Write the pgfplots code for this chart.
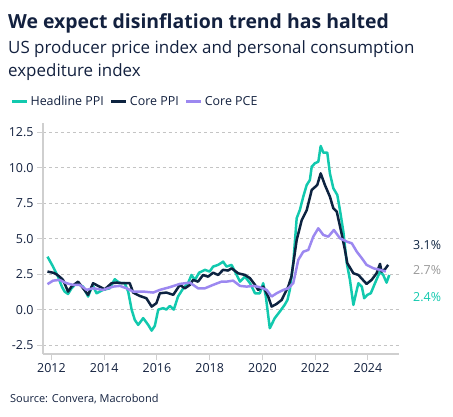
\documentclass[border=0pt]{standalone}
\usepackage{pgfplots}
\pgfplotsset{compat=1.18}
\usepackage{fontspec}
\setmainfont{Open Sans}

\definecolor{hppi}{HTML}{12C9AE}
\definecolor{cppi}{HTML}{0D2340}
\definecolor{cpce}{HTML}{9C88F0}
\definecolor{txt}{HTML}{13213F}
\definecolor{axgray}{HTML}{CFCFCF}
\definecolor{gridgray}{HTML}{C4C4C4}

\begin{document}
\begin{tikzpicture}
\begin{axis}[
    scale only axis,
    width=356bp, height=231bp,
    xmin=2011.68, xmax=2025.18,
    ymin=-3.13, ymax=13.15,
    axis lines*=left,
    axis line style={axgray, line width=1.4pt},
    xtick={2012,2014,...,2024},
    ytick={-2.5,0,2.5,5,7.5,10,12.5},
    tick style={axgray, line width=1pt},
    major tick length=6bp,
    tick align=outside,
    xticklabel style={/pgf/number format/1000 sep={}},
    yticklabel style={/pgf/number format/.cd, fixed, fixed zerofill, precision=1},
    /pgf/number format/assume math mode=true,
    ticklabel style={font=\fontsize{12.5}{14}\selectfont, text=txt},
    ymajorgrids=true,
    grid style={gridgray, dashed, line width=0.8pt},
    clip=false,
    legend columns=3,
    legend style={draw=none, fill=none, at={(-0.1,1.094)}, anchor=west,
        font=\fontsize{12.5}{14}\selectfont, text=txt,
        /tikz/every even column/.append style={column sep=4bp}},
    legend image code/.code={\draw[#1, line width=3pt] (0bp,0bp) -- (15bp,0bp);},
    every axis plot/.append style={line width=2.5pt, line join=round},
]
\addplot[hppi] coordinates {
(2011.85,3.73)(2011.95,3.4)(2012.06,3.03)(2012.25,2.32)(2012.4,1.6)(2012.5,1.27)
(2012.63,1.1)(2012.76,1.5)(2012.95,1.86)(2013.2,1.62)(2013.39,0.92)(2013.56,1.74)
(2013.71,1.15)(2013.96,1.39)(2014.21,1.5)(2014.4,2.14)(2014.59,1.86)(2014.78,1.86)
(2014.91,1.27)(2015.04,0.0)(2015.16,-0.72)(2015.29,-1.08)(2015.48,-0.6)(2015.67,-1.08)
(2015.8,-1.48)(2015.92,-1.15)(2016.05,0.0)(2016.24,0.1)(2016.36,0.0)(2016.49,0.26)
(2016.64,0.0)(2016.8,0.92)(2017.0,1.5)(2017.18,1.86)(2017.31,2.44)(2017.44,2.09)
(2017.6,2.6)(2017.82,2.8)(2018.0,2.68)(2018.13,3.03)(2018.32,3.15)(2018.45,3.3)
(2018.51,3.38)(2018.64,3.03)(2018.83,3.15)(2018.96,2.68)(2019.15,1.97)(2019.34,2.32)
(2019.53,1.86)(2019.72,1.15)(2019.9,1.15)(2020.03,1.86)(2020.13,0.92)(2020.28,-1.31)
(2020.47,-0.6)(2020.66,-0.14)(2020.85,0.35)(2020.95,0.68)(2021.04,1.39)(2021.17,3.27)
(2021.3,6.44)(2021.42,7.02)(2021.55,7.96)(2021.68,8.78)(2021.8,9.13)(2021.87,10.07)
(2021.99,10.31)(2022.12,10.42)(2022.21,11.53)(2022.31,11.06)(2022.46,11.06)(2022.56,9.6)
(2022.69,8.55)(2022.84,8.08)(2022.94,7.02)(2023.07,5.49)(2023.2,3.27)(2023.32,2.09)
(2023.45,0.33)(2023.55,1.15)(2023.64,1.86)(2023.77,1.62)(2023.86,0.8)(2023.98,1.04)
(2024.11,1.15)(2024.27,1.86)(2024.46,2.68)(2024.58,2.44)(2024.71,1.9)(2024.81,2.44)
};
\addlegendentry{Headline PPI}
\addplot[cppi] coordinates {
(2011.85,2.68)(2012.06,2.6)(2012.18,2.5)(2012.31,2.32)(2012.44,2.09)(2012.63,1.27)
(2012.76,1.62)(2013.01,1.97)(2013.2,1.5)(2013.39,1.04)(2013.58,1.86)(2013.77,1.67)
(2014.02,1.43)(2014.28,1.86)(2014.47,1.9)(2014.72,1.86)(2014.97,1.86)(2015.1,1.2)
(2015.35,0.96)(2015.6,0.8)(2015.8,0.21)(2015.98,0.45)(2016.11,1.15)(2016.36,1.2)
(2016.62,1.04)(2016.87,1.74)(2017.06,1.5)(2017.25,1.74)(2017.37,2.09)(2017.56,1.97)
(2017.75,2.44)(2017.94,2.32)(2018.13,2.6)(2018.32,2.44)(2018.51,2.8)(2018.7,2.75)
(2018.83,2.91)(2019.08,2.56)(2019.34,2.44)(2019.53,2.21)(2019.72,1.74)(2019.84,1.39)
(2020.03,1.62)(2020.22,0.92)(2020.35,0.21)(2020.54,0.4)(2020.73,0.68)(2020.98,1.62)
(2021.1,2.32)(2021.3,4.9)(2021.49,6.3)(2021.68,7.0)(2021.87,8.43)(2022.08,8.78)
(2022.21,9.6)(2022.37,8.78)(2022.56,7.96)(2022.69,7.14)(2022.82,6.9)(2023.0,5.38)
(2023.13,4.2)(2023.22,3.27)(2023.45,2.56)(2023.64,2.44)(2023.95,1.81)(2024.14,2.09)
(2024.33,2.56)(2024.46,3.22)(2024.52,2.68)(2024.65,2.85)(2024.77,3.15)
};
\addlegendentry{Core PPI}
\addplot[cpce] coordinates {
(2011.85,1.79)(2012.06,2.04)(2012.31,2.09)(2012.57,1.86)(2012.82,1.74)(2013.08,1.74)
(2013.33,1.39)(2013.58,1.5)(2013.96,1.39)(2014.34,1.62)(2014.59,1.67)(2014.85,1.5)
(2015.1,1.27)(2015.48,1.27)(2015.86,1.2)(2016.11,1.39)(2016.49,1.58)(2016.87,1.81)
(2017.25,1.9)(2017.56,1.5)(2017.82,1.5)(2018.13,1.74)(2018.45,1.97)(2018.64,1.97)
(2018.89,2.04)(2019.15,1.67)(2019.4,1.62)(2019.66,1.67)(2019.9,1.58)(2020.16,1.39)
(2020.35,0.92)(2020.54,1.15)(2020.8,1.39)(2020.98,1.5)(2021.17,1.86)(2021.36,3.5)
(2021.55,4.08)(2021.74,4.2)(2021.93,5.14)(2022.12,5.73)(2022.31,5.26)(2022.5,5.14)
(2022.71,5.61)(2022.94,5.03)(2023.2,4.79)(2023.39,4.67)(2023.58,4.08)(2023.77,3.62)
(2023.95,3.15)(2024.21,2.91)(2024.46,2.8)(2024.68,2.68)
};
\addlegendentry{Core PCE}
\end{axis}
% end-of-series value labels
\begin{scope}[every node/.style={anchor=west, inner sep=0pt, font=\fontsize{12.5}{14}\selectfont}]
\node[text=cppi] at (370bp,109bp) {3.1\%};
\node[text=gray!80] at (370bp,84bp) {2.7\%};
\node[text=hppi] at (370bp,57bp) {2.4\%};
\end{scope}
% titles and source
\node[anchor=base west, inner sep=0pt, text=txt, font=\bfseries\fontsize{19.5}{22}\selectfont] at (-35bp,325bp) {We expect disinflation trend has halted};
\node[anchor=base west, inner sep=0pt, text=txt, font=\fontsize{17}{20}\selectfont] at (-35bp,300bp) {US producer price index and personal consumption};
\node[anchor=base west, inner sep=0pt, text=txt, font=\fontsize{17}{20}\selectfont] at (-35bp,277bp) {expediture index};
\node[anchor=base west, inner sep=0pt, text=txt, font=\fontsize{11}{13}\selectfont] at (-33bp,-48bp) {Source: Convera, Macrobond};
\path[use as bounding box] (-43bp,-63bp) rectangle (410bp,354bp);
\end{tikzpicture}
\end{document}
